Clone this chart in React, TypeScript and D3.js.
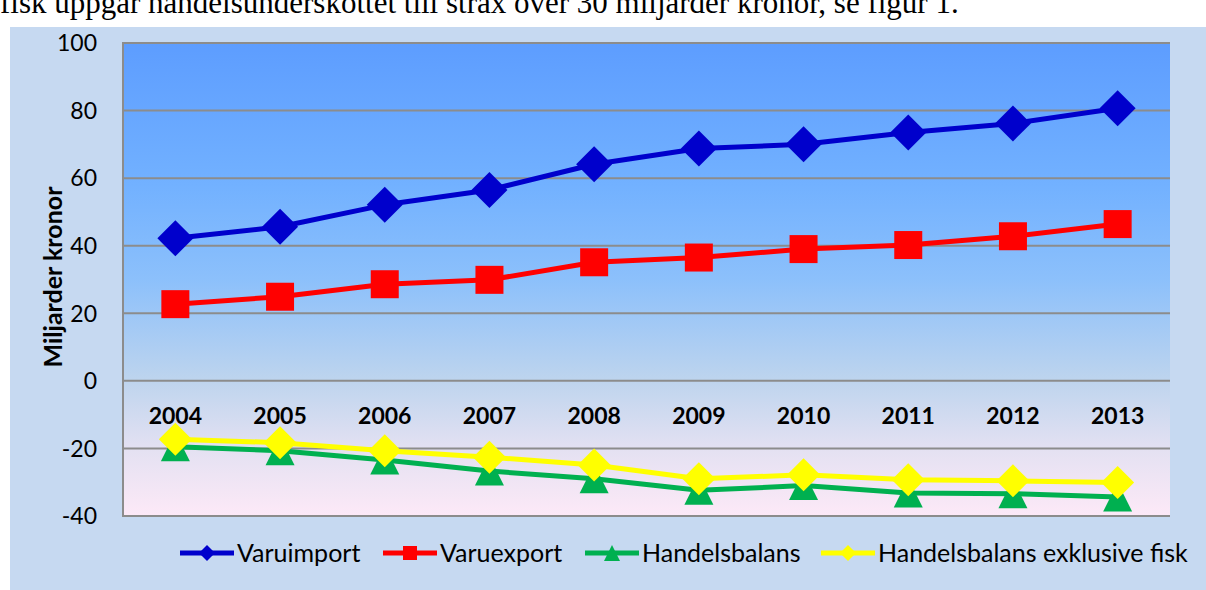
import React, { useEffect, useRef } from 'react';
import * as d3 from 'd3';

const years = ['2004', '2005', '2006', '2007', '2008', '2009', '2010', '2011', '2012', '2013'];
const varuimport = [42.2, 45.6, 52.1, 56.5, 64.1, 68.8, 70.0, 73.5, 76.2, 80.7];
const varuexport = [22.7, 24.9, 28.6, 29.9, 35.1, 36.5, 39.0, 40.2, 42.8, 46.4];
const handelsbalans = [-19.5, -20.7, -23.4, -26.7, -29.0, -32.4, -31.0, -33.2, -33.4, -34.4];
const exklFisk = [-17.3, -18.3, -20.7, -22.6, -24.9, -29.0, -27.8, -29.3, -29.6, -30.1];
const yTicks = [100, 80, 60, 40, 20, 0, -20, -40];
const seriesNames = ['Varuimport', 'Varuexport', 'Handelsbalans', 'Handelsbalans exklusive fisk'];
const introText = 'fisk uppgår handelsunderskottet till strax över 30 miljarder kronor, se figur 1.';

function App() {
  const ref = useRef<SVGSVGElement>(null);

  useEffect(() => {
    document.body.style.margin = '0';
    const svg = d3.select(ref.current);
    svg.selectAll('*').remove();

    const W = 1206, H = 590;
    const plot = { left: 123, right: 1170, top: 43, bottom: 516 };
    const font = 'Lato, "Open Sans", sans-serif';

    // page background and chart frame
    svg.append('rect').attr('width', W).attr('height', H).attr('fill', '#fff');

    // running text above the figure (cut by the page top in the original)
    svg.append('text')
      .attr('x', 0).attr('y', 13)
      .attr('font-family', '"Liberation Serif", "Times New Roman", serif')
      .attr('font-size', 31)
      .text(introText);

    svg.append('rect').attr('x', 10).attr('y', 27).attr('width', W - 10).attr('height', H - 27).attr('fill', '#C6D9F1');

    const x = d3.scaleBand().domain(years).range([plot.left, plot.right]);
    const cx = (d: string) => (x(d) as number) + x.bandwidth() / 2;
    const y = d3.scaleLinear().domain([-40, 100]).range([plot.bottom, plot.top]);

    // plot area gradient
    const defs = svg.append('defs');
    const grad = defs.append('linearGradient').attr('id', 'plotGrad')
      .attr('x1', 0).attr('y1', 0).attr('x2', 0).attr('y2', 1);
    [[0, '#5D9DFF'], [0.3, '#72B1FF'], [0.5, '#8CC0FB'], [0.71, '#BDD4EE'], [0.86, '#E4E1F2'], [1, '#FDE9F7']]
      .forEach(([o, c]) => grad.append('stop').attr('offset', o as number).attr('stop-color', c as string));

    svg.append('rect')
      .attr('x', plot.left).attr('y', plot.top)
      .attr('width', plot.right - plot.left).attr('height', plot.bottom - plot.top)
      .attr('fill', 'url(#plotGrad)');

    // gridlines
    svg.append('g').selectAll('line').data(yTicks).enter().append('line')
      .attr('x1', plot.left).attr('x2', plot.right)
      .attr('y1', d => y(d)).attr('y2', d => y(d))
      .attr('stroke', '#8C8C8C').attr('stroke-width', 2);
    svg.append('line')
      .attr('x1', plot.left).attr('x2', plot.left)
      .attr('y1', plot.top - 1).attr('y2', plot.bottom + 1)
      .attr('stroke', '#8C8C8C').attr('stroke-width', 2);

    // y tick labels
    svg.append('g').selectAll('text').data(yTicks).enter().append('text')
      .attr('x', 97).attr('y', d => y(d))
      .attr('dy', '0.36em')
      .attr('text-anchor', 'end')
      .attr('font-family', font).attr('font-size', 23)
      .attr('fill', '#000')
      .text(d => d);

    // y axis title
    svg.append('text')
      .attr('transform', 'translate(62,277) rotate(-90)')
      .attr('text-anchor', 'middle')
      .attr('font-family', font).attr('font-size', 25).attr('font-weight', 'bold')
      .text('Miljarder kronor');

    // category labels at zero line
    svg.append('g').selectAll('text').data(years).enter().append('text')
      .attr('x', d => cx(d)).attr('y', 416)
      .attr('dy', '0.36em')
      .attr('text-anchor', 'middle')
      .attr('font-family', font).attr('font-size', 23).attr('font-weight', 'bold')
      .text(d => d);

    const diamond = (r: number) => `M0,${-r}L${r},0L0,${r}L${-r},0Z`;
    const square = (r: number) => `M${-r},${-r}H${r}V${r}H${-r}Z`;
    const triangle = (r: number) => `M0,${-r}L${r},${r}L${-r},${r}Z`;

    const series = [
      { name: seriesNames[0], values: varuimport, color: '#0000CC', marker: diamond, size: 18 },
      { name: seriesNames[1], values: varuexport, color: '#FF0000', marker: square, size: 14 },
      { name: seriesNames[2], values: handelsbalans, color: '#00B050', marker: triangle, size: 14.5 },
      { name: seriesNames[3], values: exklFisk, color: '#FFFF00', marker: diamond, size: 16.5 },
    ];

    const line = d3.line<number>()
      .x((d, i) => cx(years[i]))
      .y(d => y(d));

    series.forEach(s => {
      const g = svg.append('g');
      g.append('path')
        .attr('d', line(s.values))
        .attr('fill', 'none')
        .attr('stroke', s.color)
        .attr('stroke-width', 5)
        .attr('stroke-linejoin', 'round');
      g.selectAll('path.m').data(s.values).enter().append('path')
        .attr('class', 'm')
        .attr('transform', (d, i) => `translate(${cx(years[i])},${y(d)})`)
        .attr('d', s.marker(s.size))
        .attr('fill', s.color);
    });

    // legend
    const legendX = [180, 383, 585, 821];
    const legendY = 553;
    const legendMarker = [diamond(8), square(7), triangle(8), diamond(8)];
    series.forEach((s, i) => {
      const g = svg.append('g').attr('transform', `translate(${legendX[i]},${legendY})`);
      g.append('line').attr('x1', 0).attr('x2', 54).attr('y1', 0).attr('y2', 0)
        .attr('stroke', s.color).attr('stroke-width', 5);
      g.append('path').attr('transform', 'translate(27,0)').attr('d', legendMarker[i]).attr('fill', s.color);
      g.append('text').attr('x', 57).attr('y', 0).attr('dy', '0.36em')
        .attr('font-family', font).attr('font-size', 25)
        .text(s.name);
    });
  }, []);

  return (
    <svg ref={ref} width={1206} height={590} style={{ display: 'block' }}></svg>
  );
}

export default App;
